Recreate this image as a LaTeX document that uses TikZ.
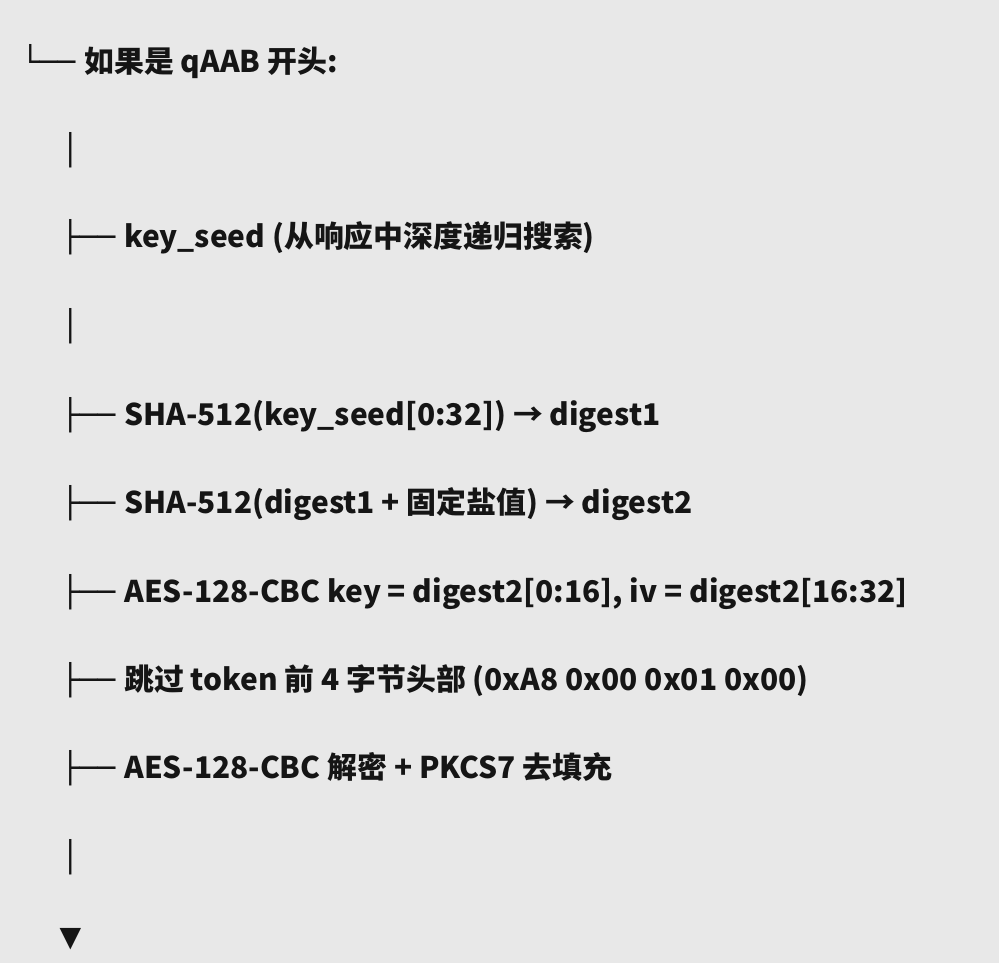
\documentclass[tikz,border=0pt]{standalone}
\usepackage{fontspec}
\setmainfont{Noto Sans CJK SC}
\newfontfamily\treefont{DejaVu Sans Mono}
\newfontfamily\symfont{DejaVu Sans}
\definecolor{bg}{HTML}{E8E8E8}
\definecolor{ink}{HTML}{151515}
\tikzset{
  branch/.style={anchor=base west, inner sep=0pt, text=ink,
    font=\treefont\fontsize{17}{20}\selectfont},
  label/.style={anchor=base west, inner sep=0pt, text=ink,
    font=\bfseries\fontsize{17}{20}\selectfont},
}

\begin{document}
\begin{tikzpicture}[x=0.02cm, y=-0.02cm]
\fill[bg] (0,0) rectangle (999,963);
\useasboundingbox (0,0) rectangle (999,963);
% top branch
\node[branch] (b0) at (21,72) {└──};
\node[label] (t0) at (84,72) {如果是 qAAB 开头:};
\node[branch] (v1) at (61,160) {│};
% key seed
\node[branch] (b1) at (61,247) {├──};
\node[label] (t1) at (124,247) {key\_seed (从响应中深度递归搜索)};
\node[branch] (v2) at (61,336) {│};
% key derivation
\node[branch] (b2) at (61,425) {├──};
\node[label] (t2) at (124,425) {SHA-512(key\_seed[0:32]) → digest1};
\node[branch] (b3) at (61,513) {├──};
\node[label] (t3) at (124,513) {SHA-512(digest1 + 固定盐值) → digest2};
\node[branch] (b4) at (61,602) {├──};
\node[label] (t4) at (124,602) {AES-128-CBC key = digest2[0:16], iv = digest2[16:32]};
% decryption
\node[branch] (b5) at (61,690) {├──};
\node[label] (t5) at (124,690) {跳过 token 前 4 字节头部 (0xA8 0x00 0x01 0x00)};
\node[branch] (b6) at (61,778) {├──};
\node[label] (t6) at (124,778) {AES-128-CBC 解密 + PKCS7 去填充};
\node[branch] (v3) at (61,867) {│};
\node[anchor=base, inner sep=0pt, text=ink, font=\symfont\fontsize{16}{18}\selectfont] (down) at (70.5,946) {▼};
\end{tikzpicture}
\end{document}
